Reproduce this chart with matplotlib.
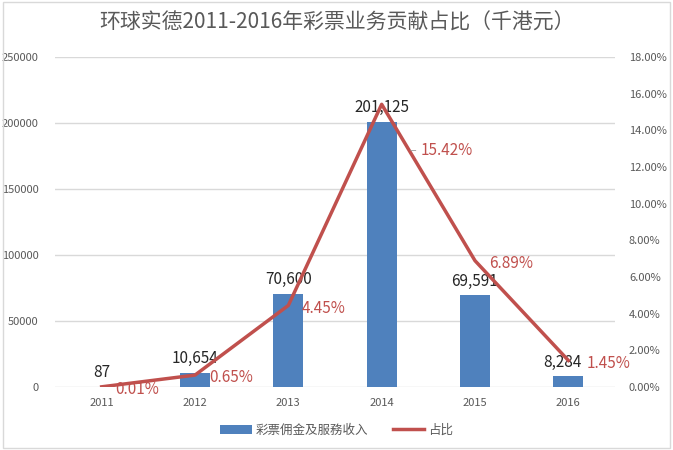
import matplotlib.pyplot as plt
from matplotlib.ticker import FuncFormatter

plt.rcParams['font.family'] = ['Noto Sans CJK SC', 'DejaVu Sans']

years = ['2011', '2012', '2013', '2014', '2015', '2016']
revenue = [87, 10654, 70600, 201125, 69591, 8284]
share = [0.01, 0.65, 4.45, 15.42, 6.89, 1.45]

bar_color = '#4F81BD'
line_color = '#C0504D'
text_gray = '#595959'

fig = plt.figure(figsize=(6.73, 4.5), dpi=100)
ax = fig.add_axes([55/673, 1-387/450, 560/673, 330/450])
ax2 = ax.twinx()

x = list(range(len(years)))
ax.bar(x, revenue, width=0.32, color=bar_color, label='彩票佣金及服務收入', zorder=2)
ax2.plot(x, share, color=line_color, linewidth=2.5, label='占比', zorder=3)

ax.set_xlim(-0.5, 5.5)
ax.set_ylim(0, 250000)
ax2.set_ylim(0, 18)
ax.set_yticks(range(0, 250001, 50000))
ax2.set_yticks(range(0, 19, 2))
ax2.yaxis.set_major_formatter(FuncFormatter(lambda v, p: f'{v:.2f}%'))
ax.set_xticks(x)
ax.set_xticklabels(years)

ax.grid(axis='y', color='#D9D9D9', linewidth=1, zorder=0)
ax.set_axisbelow(True)
for a in (ax, ax2):
    for s in a.spines.values():
        s.set_visible(False)
    a.tick_params(length=0, labelsize=8, colors=text_gray)
ax.tick_params(axis='y', pad=12)
ax2.tick_params(axis='y', pad=10)
ax.tick_params(axis='x', pad=8)

# bar value labels
for xi, v in zip(x, revenue):
    dx = -4 if xi == 5 else 0
    ax.annotate(f'{v:,}', (xi, v), xytext=(dx, 4), textcoords='offset points',
                ha='center', va='bottom', fontsize=11, color='#262626', zorder=5)

# percentage labels
for xi, p in zip(x, share):
    if xi == 3:
        ax2.annotate(f'{p:.2f}%', (xi, p), xytext=(28, -33), textcoords='offset points',
                     ha='left', va='center', fontsize=11, color=line_color, zorder=5)
        ax2.annotate('–', (xi, p), xytext=(20, -33), textcoords='offset points',
                     ha='left', va='center', fontsize=9, color='#A6A6A6', zorder=5)
    else:
        dx = 13 if xi == 5 else 10
        ax2.annotate(f'{p:.2f}%', (xi, p), xytext=(dx, -2), textcoords='offset points',
                     ha='left', va='center', fontsize=11, color=line_color, zorder=5)

fig.text(0.5, 1-23/450, '环球实德2011-2016年彩票业务贡献占比（千港元）',
         ha='center', va='center', fontsize=15, color=text_gray)

h1, l1 = ax.get_legend_handles_labels()
h2, l2 = ax2.get_legend_handles_labels()
fig.legend(h1 + h2, l1 + l2, loc='center', bbox_to_anchor=(0.5, 1-430/450), ncol=2,
           frameon=False, fontsize=9, labelcolor=text_gray, handlelength=2.5,
           columnspacing=2, handletextpad=0.3)

fig.add_artist(plt.Rectangle((0.004, 0.004), 0.992, 0.992, transform=fig.transFigure,
                             fill=False, edgecolor='#D9D9D9', linewidth=1))

fig.savefig('out.png', dpi=100)
